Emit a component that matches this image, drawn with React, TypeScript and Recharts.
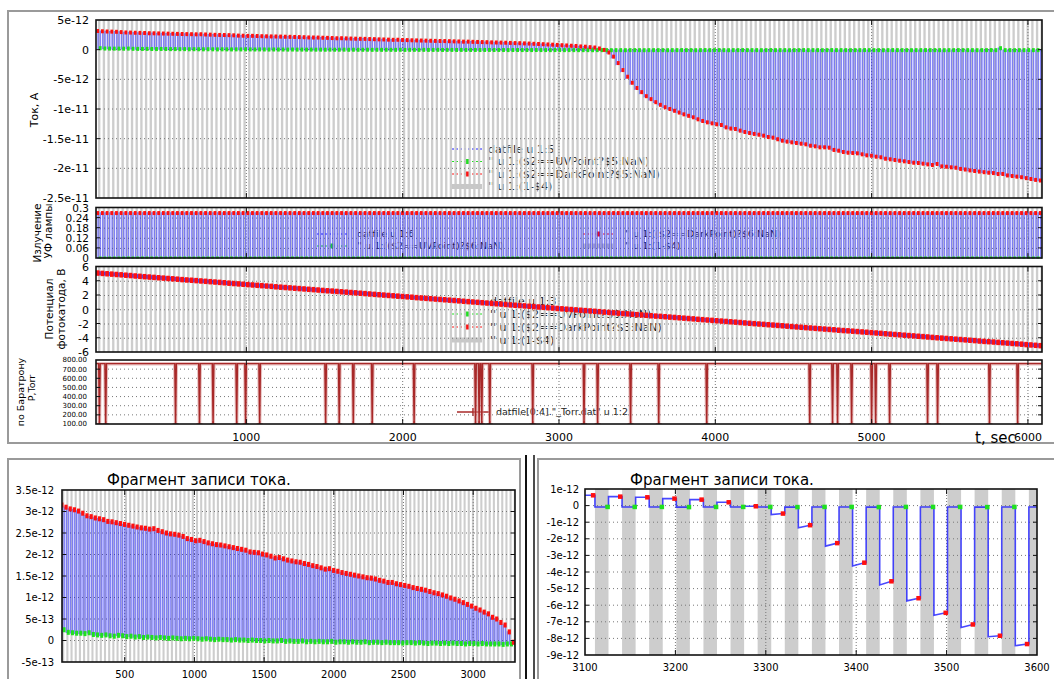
import React from "react";
import { ComposedChart, Line, Scatter, XAxis, YAxis, ReferenceArea, ReferenceLine } from "recharts";

// one acquisition cycle every 30 s: dark point, lamp phase (gray), UV point
const PERIOD = 30;
const FIRST_DARK = 49;

// photocurrent at the dark points, units of 1e-12 A
const DARK = [
  3.15, 3.1, 3.06, 3.04, 3.01, 2.96, 2.9, 2.88, 2.85, 2.83,
  2.81, 2.77, 2.76, 2.74, 2.72, 2.7, 2.68, 2.66, 2.64, 2.62,
  2.61, 2.59, 2.6, 2.56, 2.53, 2.5, 2.48, 2.47, 2.45, 2.42,
  2.37, 2.35, 2.32, 2.33, 2.3, 2.27, 2.25, 2.23, 2.22, 2.2,
  2.18, 2.16, 2.14, 2.12, 2.1, 2.06, 2.05, 2.04, 2.01, 1.99,
  1.96, 1.92, 1.93, 1.9, 1.87, 1.85, 1.83, 1.82, 1.79, 1.77,
  1.74, 1.72, 1.69, 1.66, 1.67, 1.63, 1.61, 1.58, 1.56, 1.54,
  1.52, 1.5, 1.48, 1.46, 1.45, 1.43, 1.4, 1.38, 1.35, 1.35,
  1.32, 1.3, 1.28, 1.26, 1.23, 1.21, 1.19, 1.17, 1.14, 1.11,
  1.09, 1.06, 1.03, 0.99, 0.96, 0.92, 0.88, 0.84, 0.8, 0.75,
  0.71, 0.66, 0.62, 0.54, 0.5, 0.42, 0.36, 0.2, -0.04, -0.48,
  -1.18, -2.26, -3.44, -4.56, -5.58, -6.46, -7.16, -7.84, -8.34, -8.85,
  -9.3, -9.7, -10.0, -10.3, -10.6, -10.9, -11.15, -11.4, -11.74, -12.02,
  -12.25, -12.42, -12.58, -12.7, -13.1, -13.3, -13.37, -13.65, -13.88, -14.05,
  -14.2, -14.33, -14.5, -14.72, -14.83, -15.1, -15.34, -15.5, -15.62, -15.73,
  -15.85, -15.95, -16.19, -16.29, -16.46, -16.46, -16.52, -16.9, -17.03, -17.25,
  -17.37, -17.42, -17.47, -17.64, -17.81, -17.88, -18.04, -18.14, -18.38, -18.48,
  -18.6, -18.72, -18.82, -18.94, -19.06, -19.1, -19.22, -19.33, -19.44, -19.27,
  -19.67, -19.73, -19.83, -19.9, -20.1, -20.2, -20.35, -20.45, -20.55, -20.65,
  -20.74, -20.8, -20.96, -20.95, -21.2, -21.3, -21.4, -21.5, -21.65, -21.8,
  -21.95, -22.05,
];

// photocurrent at the UV points, units of 1e-12 A
const UV = [
  0.25, 0.19, 0.18, 0.17, 0.17, 0.16, 0.18, 0.14, 0.13, 0.12,
  0.13, 0.11, 0.1, 0.12, 0.11, 0.09, 0.1, 0.08, 0.09, 0.07,
  0.08, 0.07, 0.06, 0.07, 0.06, 0.05, 0.06, 0.05, 0.04, 0.05,
  0.04, 0.05, 0.04, 0.03, 0.04, 0.03, 0.02, 0.03, 0.02, 0.02,
  0.01, 0.02, 0.01, 0.01, 0.0, 0.01, 0.0, 0.0, -0.01, 0.0,
  -0.01, -0.01, 0.0, -0.02, -0.01, -0.02, -0.02, -0.01, -0.03, -0.02,
  -0.03, -0.02, -0.03, -0.03, -0.02, -0.04, -0.03, -0.03, -0.04, -0.03,
  -0.04, -0.04, -0.03, -0.05, -0.04, -0.04, -0.05, -0.04, -0.05, -0.05,
  -0.05, -0.06, -0.05, -0.05, -0.06, -0.05, -0.06, -0.07, -0.06, -0.06,
  -0.07, -0.06, -0.07, -0.06, -0.07, -0.07, -0.08, -0.07, -0.07, -0.08,
  -0.07, -0.08, -0.08, -0.08, -0.08, -0.09, -0.08, -0.08, -0.08, -0.09,
  -0.08, -0.08, -0.09, -0.08, -0.08, -0.08, -0.09, -0.08, -0.08, -0.08,
  -0.08, -0.09, -0.08, -0.08, -0.07, -0.08, -0.08, -0.09, -0.08, -0.07,
  -0.08, -0.08, -0.07, -0.08, -0.09, -0.08, -0.08, -0.07, -0.08, -0.08,
  -0.08, -0.09, -0.08, -0.07, -0.08, -0.08, -0.08, -0.09, -0.08, -0.08,
  -0.07, -0.08, -0.08, -0.08, -0.09, -0.08, -0.07, -0.08, -0.08, -0.08,
  -0.09, -0.08, -0.08, -0.07, -0.08, -0.08, -0.08, -0.09, -0.08, -0.07,
  -0.08, -0.08, -0.08, -0.09, -0.08, -0.08, -0.07, -0.08, -0.08, -0.08,
  -0.09, -0.08, -0.08, -0.07, -0.08, -0.08, -0.08, -0.09, -0.08, -0.08,
  -0.07, -0.08, 0.25, -0.08, -0.08, -0.09, -0.08, -0.08, -0.07, -0.08,
  -0.08, -0.08,
];

// value right after the lamp switches off (undershoot), cycles 109..118
const ONSET_FROM = 109;
const ONSET = [-0.54, -1.34, -2.44, -3.64, -4.78, -5.74, -6.6, -7.34, -7.9, -8.44];

// photocathode potential, V
const POTENTIAL = [
  5.15, 5.1, 5.05, 5.0, 4.95, 4.9, 4.85, 4.8, 4.74, 4.69,
  4.64, 4.59, 4.54, 4.49, 4.44, 4.39, 4.34, 4.29, 4.23, 4.18,
  4.14, 4.09, 4.04, 3.99, 3.94, 3.89, 3.84, 3.79, 3.73, 3.68,
  3.63, 3.58, 3.53, 3.48, 3.43, 3.38, 3.33, 3.28, 3.22, 3.17,
  3.12, 3.07, 3.02, 2.97, 2.92, 2.87, 2.82, 2.77, 2.71, 2.66,
  2.62, 2.57, 2.52, 2.47, 2.42, 2.37, 2.32, 2.27, 2.21, 2.16,
  2.11, 2.06, 2.01, 1.96, 1.91, 1.86, 1.81, 1.76, 1.7, 1.65,
  1.6, 1.55, 1.5, 1.45, 1.4, 1.35, 1.3, 1.25, 1.19, 1.14,
  1.09, 1.04, 0.99, 0.94, 0.89, 0.84, 0.79, 0.74, 0.68, 0.63,
  0.59, 0.54, 0.49, 0.44, 0.39, 0.34, 0.29, 0.24, 0.18, 0.13,
  0.08, 0.03, -0.02, -0.07, -0.12, -0.17, -0.22, -0.27, -0.33, -0.38,
  -0.43, -0.48, -0.53, -0.58, -0.63, -0.68, -0.73, -0.78, -0.84, -0.89,
  -0.93, -0.98, -1.03, -1.08, -1.13, -1.18, -1.23, -1.28, -1.34, -1.39,
  -1.44, -1.49, -1.54, -1.59, -1.64, -1.69, -1.74, -1.79, -1.85, -1.9,
  -1.95, -2.0, -2.05, -2.1, -2.15, -2.2, -2.25, -2.3, -2.36, -2.41,
  -2.46, -2.51, -2.56, -2.61, -2.66, -2.71, -2.76, -2.81, -2.87, -2.92,
  -2.96, -3.01, -3.06, -3.11, -3.16, -3.21, -3.26, -3.31, -3.37, -3.42,
  -3.47, -3.52, -3.57, -3.62, -3.67, -3.72, -3.77, -3.82, -3.88, -3.93,
  -3.98, -4.03, -4.08, -4.13, -4.18, -4.23, -4.28, -4.33, -4.39, -4.44,
  -4.48, -4.53, -4.58, -4.63, -4.68, -4.73, -4.78, -4.83, -4.89, -4.94,
  -4.99, -5.04,
];

// UV lamp signal
const LAMP_DARK = 0.27;
const LAMP_UV = 0;

// Baratron pressure, Torr
const P_BASE = 760;
const P_LOW = 100;
const P_DROPS = [
  60, 100, 547, 700, 787, 938, 995, 1085, 1507, 1594, 1684, 1805, 2073, 2466, 2489, 2506, 2557,
  2832, 3160, 3247, 3458, 3638, 3945, 4604, 4750, 4782, 4872, 5000, 5026, 5115, 5358, 5422, 5754, 5934,
];

const TOP_X_TICKS = [1000, 2000, 3000, 4000, 5000, 6000];
const CUR_TICKS = [-25, -20, -15, -10, -5, 0, 5];
const LAMP_TICKS = [0, 0.06, 0.12, 0.18, 0.24, 0.3];
const POT_TICKS = [-6, -4, -2, 0, 2, 4, 6];
const P_TICKS = [100, 200, 300, 400, 500, 600, 700, 800];
const FRAG1_X = [500, 1000, 1500, 2000, 2500, 3000];
const FRAG1_Y = [-0.5, 0, 0.5, 1, 1.5, 2, 2.5, 3, 3.5];
const FRAG2_X = [3100, 3200, 3300, 3400, 3500, 3600];
const FRAG2_Y = [-9, -8, -7, -6, -5, -4, -3, -2, -1, 0, 1];

const RED = "#ff1010";
const GREEN = "#1fe01f";
const BLUE = "#1a1aff";
const GRAY = "#c8c8c8";
const BROWN = "#a82828";

type Pt = { t: number; v: number };
type Rect = { l: number; t: number; r: number; b: number };

const cycles = DARK.map((_, k) => FIRST_DARK + k * PERIOD);
const stripes: [number, number][] = cycles.map((t) => [t + 2, t + 17]);

const currentLine: Pt[] = [];
const lampLine: Pt[] = [];
cycles.forEach((t, k) => {
  const j = k - ONSET_FROM;
  const onset = j >= 0 && j < ONSET.length ? ONSET[j] : DARK[k];
  currentLine.push(
    { t: t - 13, v: onset },
    { t, v: DARK[k] },
    { t: t + 2, v: DARK[k] },
    { t: t + 2, v: UV[k] },
    { t: t + 17, v: UV[k] }
  );
  lampLine.push(
    { t: t - 13, v: LAMP_DARK },
    { t: t + 2, v: LAMP_DARK },
    { t: t + 2, v: LAMP_UV },
    { t: t + 17, v: LAMP_UV }
  );
});
const darkPts = cycles.map((t, k) => ({ t, v: DARK[k] }));
const uvPts = cycles.map((t, k) => ({ t: t + 16, v: UV[k] }));
const lampDarkPts = cycles.map((t) => ({ t, v: LAMP_DARK }));
const lampUvPts = cycles.map((t) => ({ t: t + 16, v: LAMP_UV }));
const potPts = cycles.map((t, k) => ({ t, v: POTENTIAL[k] }));

const pressureLine: Pt[] = [{ t: 0, v: P_BASE }];
P_DROPS.forEach((d) => pressureLine.push({ t: d - 5, v: P_BASE }, { t: d, v: P_LOW }, { t: d + 5, v: P_BASE }));
pressureLine.push({ t: 6100, v: P_BASE });
const pressureLows = P_DROPS.map((d) => ({ t: d, v: P_LOW }));

const within = (pts: Pt[], a: number, b: number) => pts.filter((p) => p.t >= a && p.t <= b);

const eFmt = (v: number) => (v === 0 ? "0" : Number((v * 1e-12).toPrecision(3)).toExponential());

const square = (w: number, h: number, fill: string) => (p: any) =>
  p.cx == null ? <g /> : <rect x={p.cx - w / 2} y={p.cy - h / 2} width={w} height={h} fill={fill} />;

const plus = (p: any) =>
  p.cx == null ? <g /> : (
    <path d={`M${p.cx - 3},${p.cy}h6M${p.cx},${p.cy - 3}v6`} stroke={BROWN} strokeWidth={1.2} />
  );

// plot rectangles, page pixels
const R1: Rect = { l: 96, t: 20, r: 1042, b: 198 };
const R2: Rect = { l: 96, t: 207.5, r: 1042, b: 258 };
const R3: Rect = { l: 96, t: 266.5, r: 1042, b: 352 };
const R4: Rect = { l: 96, t: 360, r: 1042, b: 424 };
const RF1: Rect = { l: 62, t: 490, r: 515, b: 662 };
const RF2: Rect = { l: 585, t: 489, r: 1037, b: 655 };

const TOP_X: [number, number] = [38, 6090];
const F1_X: [number, number] = [50, 3300];
const F2_X: [number, number] = [3100, 3600];

type PanelProps = {
  rect: Rect;
  yw: number;
  xDomain: [number, number];
  xTicks: number[];
  showX?: boolean;
  yDomain: [number, number];
  yTicks: number[];
  yFmt?: (v: number) => string;
  yFont?: number;
  yGap?: number;
  xFont?: number;
  striped?: boolean;
  children: React.ReactNode;
};

function Panel({ rect, yw, xDomain, xTicks, showX = false, yDomain, yTicks, yFmt, yFont = 11, yGap = 7, xFont = 11, striped = true, children }: PanelProps) {
  const pad = 8;
  const padR = 24;
  const xh = 26;
  const w = rect.r - rect.l + yw + padR;
  const h = rect.b - rect.t + pad + (showX ? xh : pad);
  const [x0, x1] = xDomain;
  const shown = striped ? stripes.filter(([a, b]) => b > x0 && a < x1) : [];
  return (
    <div style={{ position: "absolute", left: rect.l - yw, top: rect.t - pad }}>
      <ComposedChart width={w} height={h} margin={{ top: pad, right: padR, bottom: showX ? 0 : pad, left: 0 }}>
        <XAxis
          type="number"
          dataKey="t"
          domain={xDomain}
          allowDataOverflow
          ticks={xTicks}
          interval={0}
          hide={!showX}
          height={xh}
          tickLine={false}
          axisLine={false}
          tickSize={0}
          tickMargin={9}
          tick={{ fontSize: xFont, fill: "#000" }}
        />
        <YAxis
          type="number"
          dataKey="v"
          domain={yDomain}
          allowDataOverflow
          ticks={yTicks}
          interval={0}
          width={yw}
          tickLine={false}
          axisLine={false}
          tickSize={0}
          tickMargin={yGap}
          tickFormatter={yFmt}
          tick={{ fontSize: yFont, fill: "#000" }}
        />
        {shown.map(([a, b], i) => (
          <ReferenceArea key={"s" + i} x1={a} x2={b} fill={GRAY} fillOpacity={0.9} stroke="none" ifOverflow="hidden" />
        ))}
        {yTicks
          .filter((v) => v > yDomain[0] && v < yDomain[1])
          .map((v) => (
            <ReferenceLine key={"gy" + v} y={v} stroke="#777" strokeDasharray="1 3" />
          ))}
        {xTicks
          .filter((v) => v > x0 && v < x1)
          .map((v) => (
            <ReferenceLine key={"gx" + v} x={v} stroke="#777" strokeDasharray="1 2" />
          ))}
        {children}
      </ComposedChart>
    </div>
  );
}

function KeySample({ x, y, kind }: { x: number; y: number; kind: string }) {
  if (kind === "gray") return <line x1={x} x2={x + 30} y1={y} y2={y} stroke={GRAY} strokeWidth={5} />;
  if (kind === "brown")
    return (
      <g>
        <line x1={x} x2={x + 33} y1={y} y2={y} stroke={BROWN} strokeWidth={1.5} />
        <path d={`M${x + 16},${y - 4}v8`} stroke={BROWN} strokeWidth={1.5} />
      </g>
    );
  const c = kind === "blue" ? BLUE : kind === "green" ? GREEN : RED;
  return (
    <g>
      <line x1={x} x2={x + 30} y1={y} y2={y} stroke={c} strokeWidth={1} strokeDasharray="2 2" />
      {kind !== "blue" && <rect x={x + 13.5} y={y - 2.5} width={4} height={5} fill={c} />}
    </g>
  );
}

function KeyRow({ x, tx, y, kind, text, fs }: { x: number; tx: number; y: number; kind: string; text: string; fs: number }) {
  return (
    <g>
      <KeySample x={x} y={y} kind={kind} />
      <text x={tx} y={y + fs * 0.36} fontSize={fs} fill="#222">
        {text}
      </text>
    </g>
  );
}

function VLabel({ x, y, text, fs }: { x: number; y: number; text: string; fs: number }) {
  return (
    <text transform={`translate(${x},${y}) rotate(-90)`} textAnchor="middle" dy="0.36em" fontSize={fs} fill="#000">
      {text}
    </text>
  );
}

function Border({ r }: { r: Rect }) {
  return <rect x={r.l} y={r.t} width={r.r - r.l} height={r.b - r.t} fill="none" stroke="#111" strokeWidth={1.6} />;
}

function TickMarks({ r, xd, xt, yd, yt }: { r: Rect; xd: [number, number]; xt: number[]; yd: [number, number]; yt: number[] }) {
  const sx = (v: number) => r.l + ((v - xd[0]) / (xd[1] - xd[0])) * (r.r - r.l);
  const sy = (v: number) => r.b - ((v - yd[0]) / (yd[1] - yd[0])) * (r.b - r.t);
  return (
    <g stroke="#111" strokeWidth={1}>
      {xt
        .filter((v) => v > xd[0] && v < xd[1])
        .map((v) => (
          <path key={"x" + v} d={`M${sx(v)},${r.b}v-5M${sx(v)},${r.t}v5`} />
        ))}
      {yt
        .filter((v) => v > yd[0] && v < yd[1])
        .map((v) => (
          <path key={"y" + v} d={`M${r.l},${sy(v)}h4M${r.r},${sy(v)}h-4`} />
        ))}
    </g>
  );
}

const blueProps = { dot: false, activeDot: false, isAnimationActive: false, type: "linear" as const };

export default function App() {
  return (
    <div
      style={{
        position: "absolute",
        left: 0,
        top: 0,
        width: 1054,
        height: 679,
        overflow: "hidden",
        background: "#fff",
        fontFamily: '"DejaVu Sans", sans-serif',
      }}
    >
      {/* keys sit under the plots, as in the original where the stripes cover them */}
      <svg width={1054} height={679} style={{ position: "absolute", left: 0, top: 0 }}>
        <KeyRow x={452} tx={488} y={149} kind="blue" text="datfile u 1:5" fs={11} />
        <KeyRow x={452} tx={488} y={161.5} kind="green" text="'' u 1:($2==UVPoint?$5:NaN)" fs={11} />
        <KeyRow x={452} tx={488} y={174} kind="red" text="'' u 1:($2==DarkPoint?$5:NaN)" fs={11} />
        <KeyRow x={452} tx={488} y={186.5} kind="gray" text="'' u 1:(1-$4)" fs={11} />

        <KeyRow x={317} tx={357} y={234} kind="blue" text="datfile u 1:6" fs={9.5} />
        <KeyRow x={317} tx={357} y={246} kind="green" text="'' u 1:(($2==UVPoint)?$6:NaN)" fs={9.5} />
        <KeyRow x={583} tx={625} y={234} kind="red" text="'' u 1:(($2==DarkPoint)?$6:NaN)" fs={9.5} />
        <KeyRow x={583} tx={625} y={246} kind="gray" text="'' u 1:(1-$4)" fs={9.5} />

        <KeyRow x={452} tx={490} y={301} kind="blue" text="datfile u 1:3" fs={11} />
        <KeyRow x={452} tx={490} y={314} kind="green" text="'' u 1:($2==UVPoint?$3:NaN)" fs={11} />
        <KeyRow x={452} tx={490} y={327} kind="red" text="'' u 1:($2==DarkPoint?$3:NaN)" fs={11} />
        <KeyRow x={452} tx={490} y={340} kind="gray" text="'' u 1:(1-$4)" fs={11} />

        <KeyRow x={457} tx={496} y={412} kind="brown" text={'datfile[0:4]."_Torr.dat" u 1:2'} fs={9.5} />
      </svg>

      <Panel rect={R1} yw={90} xDomain={TOP_X} xTicks={TOP_X_TICKS} yDomain={[-25, 5]} yTicks={CUR_TICKS} yFmt={eFmt}>
        <Line data={currentLine} dataKey="v" stroke={BLUE} strokeOpacity={0.5} strokeWidth={1.5} {...blueProps} />
        <Scatter data={uvPts} dataKey="v" shape={square(2.8, 4, GREEN)} isAnimationActive={false} />
        <Scatter data={darkPts} dataKey="v" shape={square(2.8, 4, RED)} isAnimationActive={false} />
      </Panel>

      <Panel rect={R2} yw={90} xDomain={TOP_X} xTicks={TOP_X_TICKS} yDomain={[0, 0.3]} yTicks={LAMP_TICKS} yFont={10.5}>
        <Line data={lampLine} dataKey="v" stroke={BLUE} strokeOpacity={0.5} strokeWidth={1.5} {...blueProps} />
        <Scatter data={lampUvPts} dataKey="v" shape={square(3, 4, GREEN)} isAnimationActive={false} />
        <Scatter data={lampDarkPts} dataKey="v" shape={square(2.8, 4, RED)} isAnimationActive={false} />
      </Panel>

      <Panel rect={R3} yw={90} xDomain={TOP_X} xTicks={TOP_X_TICKS} yDomain={[-6, 6]} yTicks={POT_TICKS}>
        <Line data={potPts} dataKey="v" stroke={BLUE} strokeOpacity={0.75} strokeWidth={4} {...blueProps} />
        <Scatter data={potPts} dataKey="v" shape={square(3.6, 5.5, RED)} isAnimationActive={false} />
      </Panel>

      <Panel
        rect={R4}
        yw={90}
        xDomain={TOP_X}
        xTicks={TOP_X_TICKS}
        showX
        yDomain={[100, 800]}
        yTicks={P_TICKS}
        yFmt={(v) => v.toFixed(2)}
        yFont={7}
        yGap={9}
        striped={false}
      >
        <Line data={pressureLine} dataKey="v" stroke="#d48a8a" strokeOpacity={0.55} strokeWidth={3.5} {...blueProps} />
        <Line data={pressureLine} dataKey="v" stroke={BROWN} strokeWidth={1.4} {...blueProps} />
        <Scatter data={pressureLows} dataKey="v" shape={plus} isAnimationActive={false} />
      </Panel>

      <Panel rect={RF1} yw={70} xDomain={F1_X} xTicks={FRAG1_X} showX yDomain={[-0.5, 3.5]} yTicks={FRAG1_Y} yFmt={eFmt} yFont={10} yGap={8} xFont={10}>
        <Line data={within(currentLine, 10, 3340)} dataKey="v" stroke={BLUE} strokeOpacity={0.5} strokeWidth={1.5} {...blueProps} />
        <Scatter data={within(uvPts, 10, 3340)} dataKey="v" shape={square(3, 5, GREEN)} isAnimationActive={false} />
        <Scatter data={within(darkPts, 10, 3340)} dataKey="v" shape={square(3.2, 5, RED)} isAnimationActive={false} />
      </Panel>

      <Panel rect={RF2} yw={70} xDomain={F2_X} xTicks={FRAG2_X} showX yDomain={[-9, 1]} yTicks={FRAG2_Y} yFmt={eFmt} yFont={10} yGap={6} xFont={10}>
        <Line data={within(currentLine, 3050, 3650)} dataKey="v" stroke={BLUE} strokeOpacity={0.8} strokeWidth={1.6} {...blueProps} />
        <Scatter data={within(uvPts, 3050, 3650)} dataKey="v" shape={square(4.5, 4.5, GREEN)} isAnimationActive={false} />
        <Scatter data={within(darkPts, 3050, 3650)} dataKey="v" shape={square(4.5, 4.5, RED)} isAnimationActive={false} />
      </Panel>

      <svg width={1054} height={679} style={{ position: "absolute", left: 0, top: 0, pointerEvents: "none" }}>
        {/* figure frames */}
        <rect x={8} y={11} width={1100} height={432} fill="none" stroke="#9a9a9a" strokeWidth={2} />
        <rect x={8} y={459} width={512} height={260} fill="none" stroke="#9a9a9a" strokeWidth={2} />
        <rect x={538} y={459} width={600} height={260} fill="none" stroke="#9a9a9a" strokeWidth={2} />
        <line x1={526} x2={526} y1={455} y2={679} stroke="#111" strokeWidth={2} />
        <line x1={534} x2={534} y1={455} y2={679} stroke="#111" strokeWidth={1.5} />

        <Border r={R1} />
        <Border r={R2} />
        <Border r={R3} />
        <Border r={R4} />
        <Border r={RF1} />
        <Border r={RF2} />
        <TickMarks r={R1} xd={TOP_X} xt={TOP_X_TICKS} yd={[-25, 5]} yt={CUR_TICKS} />
        <TickMarks r={R2} xd={TOP_X} xt={TOP_X_TICKS} yd={[0, 0.3]} yt={LAMP_TICKS} />
        <TickMarks r={R3} xd={TOP_X} xt={TOP_X_TICKS} yd={[-6, 6]} yt={POT_TICKS} />
        <TickMarks r={R4} xd={TOP_X} xt={TOP_X_TICKS} yd={[100, 800]} yt={P_TICKS} />
        <TickMarks r={RF1} xd={F1_X} xt={FRAG1_X} yd={[-0.5, 3.5]} yt={FRAG1_Y} />
        <TickMarks r={RF2} xd={F2_X} xt={FRAG2_X} yd={[-9, 1]} yt={FRAG2_Y} />

        <VLabel x={34} y={110} text="Ток, А" fs={11} />
        <VLabel x={37} y={233} text="Излучение" fs={10.5} />
        <VLabel x={48} y={231} text="УФ лампы" fs={10.5} />
        <VLabel x={49} y={309} text="Потенциал" fs={10.5} />
        <VLabel x={61} y={309} text="фотокатода, В" fs={10.5} />
        <VLabel x={20.5} y={392} text="по Баратрону" fs={9.5} />
        <VLabel x={32} y={388} text="Р,Torr" fs={9.5} />

        <text x={975} y={443} fontSize={15} fill="#000">
          t, sec
        </text>
        <text x={199} y={485} fontSize={15} textAnchor="middle" fill="#000">
          Фрагмент записи тока.
        </text>
        <text x={722} y={485} fontSize={15} textAnchor="middle" fill="#000">
          Фрагмент записи тока.
        </text>
      </svg>
    </div>
  );
}
